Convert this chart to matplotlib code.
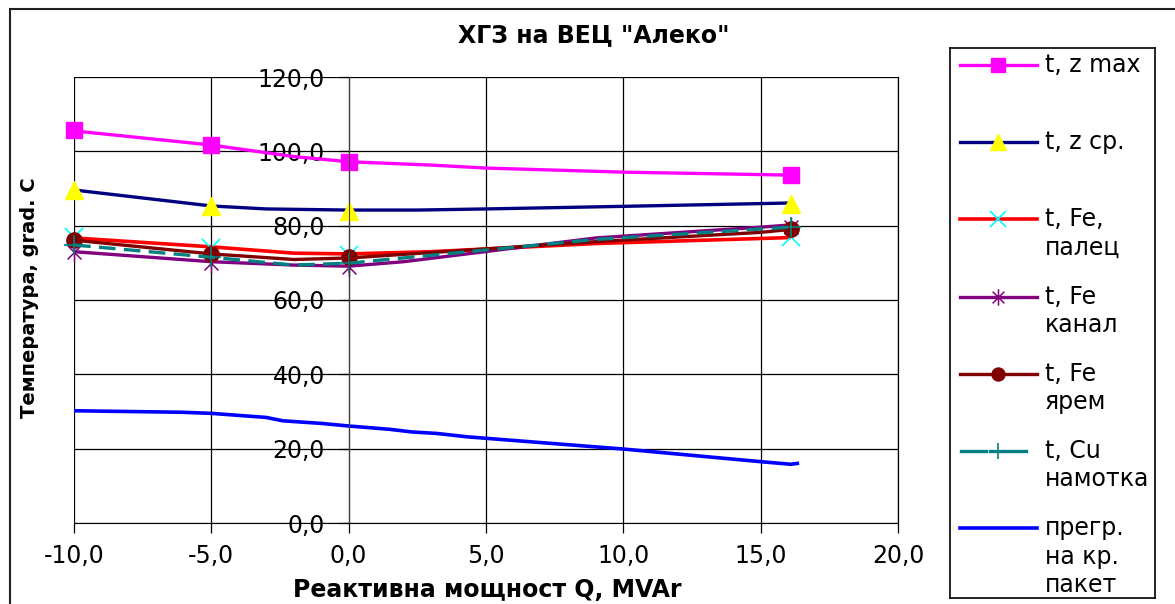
import matplotlib
matplotlib.use("Agg")
import matplotlib.pyplot as plt
from matplotlib.lines import Line2D
from matplotlib.patches import Rectangle
from matplotlib.path import Path
from matplotlib.ticker import FuncFormatter, MultipleLocator

# measured points (reactive power Q, MVAr)
q_mark = [-10.0, -5.0, 0.0, 16.1]

t_zmax_mark = [105.7, 101.7, 97.1, 93.6]
q_zmax_line = [-10.0, -5.0, -2.0, 0.0, 3.0, 5.0, 10.0, 16.1]
t_zmax_line = [105.5, 101.7, 98.6, 97.2, 96.3, 95.5, 94.4, 93.6]

t_zcp_mark = [89.6, 85.3, 84.0, 85.8]
q_zcp_line = [-10.0, -5.0, -3.0, 0.0, 2.5, 5.0, 10.0, 16.1]
t_zcp_line = [89.6, 85.3, 84.5, 84.2, 84.2, 84.5, 85.2, 86.1]

t_fe_palec_mark = [77.0, 74.0, 72.1, 77.0]
q_fe_palec_line = [-10.0, -5.0, -2.0, 0.0, 3.0, 9.0, 16.1]
t_fe_palec_line = [76.7, 74.3, 72.6, 72.4, 73.0, 75.2, 76.8]

t_fe_kanal_mark = [73.0, 69.9, 69.0, 79.6]
q_fe_kanal_line = [-10.0, -5.0, -2.0, 0.0, 2.0, 9.0, 15.0, 16.1]
t_fe_kanal_line = [73.0, 70.3, 69.4, 69.1, 70.3, 76.7, 79.6, 80.2]

t_fe_yarem_mark = [76.1, 72.4, 71.6, 79.0]
q_fe_yarem_line = [-10.0, -5.0, -2.0, 0.0, 9.0, 15.0, 16.1]
t_fe_yarem_line = [76.1, 72.4, 70.9, 71.3, 75.7, 78.2, 79.0]

t_cu_mark = [74.8, 71.5, 69.9, 79.6]
q_cu_line = [-10.0, -5.0, -2.0, 0.0, 9.0, 16.1]
t_cu_line = [74.8, 71.5, 69.4, 69.9, 76.3, 79.6]

q_pregr_line = [-10.0, -6.1, -5.0, -3.0, -2.4, -1.0, 0.0, 1.5, 2.3, 3.2,
                4.3, 5.5, 10.0, 15.0, 16.1, 16.4]
t_pregr_line = [30.2, 29.8, 29.5, 28.4, 27.5, 26.8, 26.1, 25.2, 24.5, 24.1,
                23.2, 22.5, 19.9, 16.5, 15.8, 16.1]

labels = ["t, z max", "t, z ср.", "t, Fe,\nпалец", "t, Fe\nканал",
          "t, Fe\nярем", "t, Cu\nнамотка", "прегр.\nна кр.\nпакет"]

# excel-style asterisk: an "x" with a vertical bar through it
asterisk = Path([(-1, -1), (1, 1), (-1, 1), (1, -1), (0, -1.4), (0, 1.4)],
                [Path.MOVETO, Path.LINETO, Path.MOVETO, Path.LINETO,
                 Path.MOVETO, Path.LINETO])

styles = [
    dict(color="#FF00FF", lw=2.4, marker="s", ms=12, mfc="#FF00FF",
         mec="#FF00FF"),
    dict(color="#000080", lw=2.4, marker="^", ms=13, mfc="#FFFF00",
         mec="#FFFF00"),
    dict(color="#FF0000", lw=2.6, marker="x", ms=13, mec="#00FFFF", mew=1.2),
    dict(color="#800080", lw=2.4, marker=asterisk, ms=14, mec="#800080",
         mew=1.1),
    dict(color="#800000", lw=2.4, marker="o", ms=11, mfc="#800000",
         mec="#800000"),
    dict(color="#008080", lw=2.4, ls=(0, (5, 2.5)), marker="+", ms=14,
         mec="#008080", mew=1.2),
    dict(color="#0000FF", lw=2.6),
]

series = [
    (q_zmax_line, t_zmax_line, t_zmax_mark),
    (q_zcp_line, t_zcp_line, t_zcp_mark),
    (q_fe_palec_line, t_fe_palec_line, t_fe_palec_mark),
    (q_fe_kanal_line, t_fe_kanal_line, t_fe_kanal_mark),
    (q_fe_yarem_line, t_fe_yarem_line, t_fe_yarem_mark),
    (q_cu_line, t_cu_line, t_cu_mark),
    (q_pregr_line, t_pregr_line, None),
]


def line_style(st):
    return {k: v for k, v in st.items() if k in ("color", "lw", "ls")}


def marker_style(st):
    return {k: v for k, v in st.items()
            if k in ("marker", "ms", "mfc", "mec", "mew")}


W, H = 1175, 604
fig = plt.figure(figsize=(W / 100, H / 100), dpi=100)
plt.rcParams["font.family"] = "DejaVu Sans"

# outer chart frame
fig.add_artist(Rectangle((10 / W, -0.1), 2, 1.1 - 9 / H,
                         transform=fig.transFigure, fill=False,
                         lw=1.5, ec="#202020"))

ax = fig.add_axes([74 / W, 1 - 523 / H, 824 / W, 446 / H])

for (qx, ty, tm), st in zip(series, styles):
    ax.plot(qx, ty, solid_capstyle="butt", **line_style(st))
    if tm is not None:
        ax.plot(q_mark, tm, ls="none", clip_on=False, **marker_style(st))

ax.set_xlim(-10, 20)
ax.set_ylim(0, 120)
ax.xaxis.set_major_locator(MultipleLocator(5))
ax.yaxis.set_major_locator(MultipleLocator(20))
fmt = FuncFormatter(lambda v, p: f"{v:.1f}".replace(".", ","))
ax.xaxis.set_major_formatter(fmt)
ax.yaxis.set_major_formatter(fmt)
ax.grid(True, color="black", lw=0.9)
ax.set_axisbelow(True)

ax.spines["top"].set_visible(False)
ax.spines["right"].set_color("black")
ax.spines["right"].set_linewidth(0.9)
ax.spines["left"].set_position(("data", 0))
ax.spines["left"].set_color("#404040")
ax.spines["bottom"].set_color("black")
ax.tick_params(axis="y", direction="out", length=7, width=0.9,
               pad=10, labelsize=17, right=False)
ax.tick_params(axis="x", direction="out", length=7, width=0.9,
               pad=8, labelsize=17)

ax.set_title('ХГЗ на ВЕЦ "Алеко"', fontsize=17, fontweight="bold",
             x=(594 - 74) / 824, y=1 + (77 - 43) / 446, va="center")
ax.set_xlabel("Реактивна мощност Q, MVAr", fontsize=17,
              fontweight="bold", va="center")
ax.xaxis.set_label_coords((487 - 74) / 824, (523 - 590) / 446)
ax.set_ylabel("Температура, grad. C", fontsize=14, fontweight="bold",
              va="center")
ax.yaxis.set_label_coords((30 - 74) / 824, (523 - 298) / 446)

# legend drawn in its own pixel-scaled box
lx0, ly0, lw_, lh = 950, 48, 205, 550
lax = fig.add_axes([lx0 / W, 1 - (ly0 + lh) / H, lw_ / W, lh / H])
lax.set_xlim(0, lw_)
lax.set_ylim(lh, 0)
lax.set_xticks([])
lax.set_yticks([])
for sp in lax.spines.values():
    sp.set_linewidth(1.2)

for i, (label, st) in enumerate(zip(labels, styles)):
    y = 17 + 77.2 * i
    if "ls" in st:
        lax.add_line(Line2D([11, 36], [y, y], color=st["color"], lw=st["lw"]))
        lax.add_line(Line2D([40, 76], [y, y], color=st["color"], lw=st["lw"]))
    else:
        lax.add_line(Line2D([10, 87], [y, y], color=st["color"], lw=st["lw"]))
    if "marker" in st:
        mk = marker_style(st)
        mk["ms"] = st["ms"] * 0.85
        lax.add_line(Line2D([48.5], [y], ls="none", **mk))
    for j, part in enumerate(label.split("\n")):
        lax.text(95, y + 28.5 * j, part, fontsize=17, va="center",
                 ha="left")

fig.savefig("out.png", dpi=100)
